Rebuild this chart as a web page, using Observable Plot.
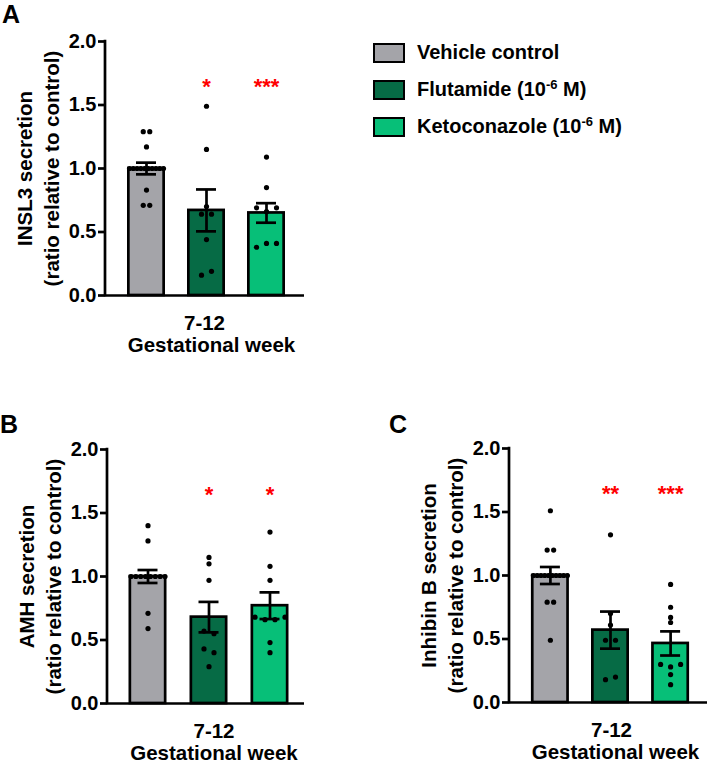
<!DOCTYPE html>
<html><head><meta charset="utf-8">
<script src="https://cdn.jsdelivr.net/npm/d3@7"></script>
<script src="https://cdn.jsdelivr.net/npm/@observablehq/plot@0.6"></script>
<style>
body{margin:0;background:#fff;font-family:'Liberation Sans',Arial,sans-serif;}
#wrap{position:relative;width:708px;height:762px;overflow:hidden;background:#fff;}
.pane{position:absolute;}
.letter{position:absolute;font-size:25px;font-weight:bold;line-height:25px;}
.sw{position:absolute;left:373px;width:32px;height:20px;border:2.5px solid #000;box-sizing:border-box;}
.lt{position:absolute;left:417px;font-size:20px;font-weight:bold;line-height:20px;white-space:nowrap;}
.lt sup{font-size:13px;vertical-align:7px;line-height:0;}
</style></head>
<body><div id="wrap"></div>
<script>
// ---------- data ----------
const groups = ["Vehicle control", "Flutamide", "Ketoconazole"];
const legendMain = ["Vehicle control", "Flutamide (10", "Ketoconazole (10"];
const legendSup = ["", "-6", "-6"];
const legendTail = ["", " M)", " M)"];
const colors = ["#A4A4A9", "#066B45", "#07BF78"];
const panelLetters = ["A", "B", "C"];
const yTitles = ["INSL3 secretion", "AMH secretion", "Inhibin B secretion"];
const yUnit = "(ratio relative to control)";
const xTickLabel = "7-12";
const xTitle = "Gestational week";
const yTicks = [0, 0.5, 1.0, 1.5, 2.0];

const insl3Vehicle = [1.29, 1.29, 1.17, 1, 1, 1, 1, 1, 1, 1, 1, 1, 1, 0.83, 0.71, 0.71];
const insl3Flutamide = [1.49, 1.15, 0.70, 0.64, 0.64, 0.44, 0.16, 0.19];
const insl3Ketoconazole = [1.09, 0.85, 0.69, 0.66, 0.69, 0.38, 0.41, 0.41];
const insl3Mean = [1.00, 0.67, 0.65];
const insl3Sem = [0.046, 0.165, 0.077];
const insl3Stars = ["", "*", "***"];

const amhVehicle = [1.40, 1.28, 1, 1, 1, 1, 1, 1, 1, 1, 0.71, 0.59];
const amhFlutamide = [1.15, 1.10, 0.97, 0.57, 0.55, 0.43, 0.40, 0.29];
const amhKetoconazole = [1.35, 1.08, 0.97, 0.68, 0.66, 0.66, 0.68, 0.48, 0.40];
const amhMean = [1.00, 0.68, 0.77];
const amhSem = [0.051, 0.12, 0.105];
const amhStars = ["", "*", "*"];

const inhbVehicle = [1.51, 1.20, 1.20, 1, 1, 1, 1, 1, 1, 1, 1, 1, 1, 0.79, 0.79, 0.49];
const inhbFlutamide = [1.32, 0.70, 0.61, 0.49, 0.49, 0.18, 0.20];
const inhbKetoconazole = [0.93, 0.75, 0.67, 0.63, 0.30, 0.28, 0.30, 0.22, 0.14];
const inhbMean = [1.00, 0.57, 0.465];
const inhbSem = [0.067, 0.146, 0.095];
const inhbStars = ["", "**", "***"];

// ---------- layout ----------
const FONT = "'Liberation Sans', Arial, sans-serif";
const LW = 2.7;
const STAR_Y = 1.645;
const ROW_TOL = 0.035;
const panels = [
  {left: 0, top: 0, width: 320, height: 360, mt: 41, mb: 65, ml: 105, mr: 16, c0: 146, step: 60, tickDx: -2,
   pts: [insl3Vehicle, insl3Flutamide, insl3Ketoconazole], mean: insl3Mean, sem: insl3Sem, stars: insl3Stars,
   letterTop: 1.8, letterLeft: 2},
  {left: 0, top: 380, width: 320, height: 382, mt: 69, mb: 59, ml: 107, mr: 16, c0: 147.5, step: 61, tickDx: 5,
   pts: [amhVehicle, amhFlutamide, amhKetoconazole], mean: amhMean, sem: amhSem, stars: amhStars,
   letterTop: 412, letterLeft: 0},
  {left: 360, top: 380, width: 348, height: 382, mt: 68, mb: 60, ml: 149, mr: 1, c0: 189.9, step: 60.1, tickDx: 1,
   pts: [inhbVehicle, inhbFlutamide, inhbKetoconazole], mean: inhbMean, sem: inhbSem, stars: inhbStars,
   letterTop: 412, letterLeft: 389}
];

// scatter layout: points of (nearly) equal value share a row, centred on the bar
function scatterOffsets(values) {
  const spacing = values.length > 12 ? 6.5 : 10;
  const idx = values.map((v, i) => i).sort((a, b) => values[b] - values[a]);
  const rows = [];
  for (const i of idx) {
    const r = rows[rows.length - 1];
    if (r && values[r[0]] - values[i] <= ROW_TOL + 1e-9) r.push(i); else rows.push([i]);
  }
  const off = new Array(values.length).fill(0);
  for (const r of rows) {
    r.sort((a, b) => a - b);
    const s = r.length > 1 ? Math.min(spacing, 34 / (r.length - 1)) : 0;
    r.forEach((i, j) => off[i] = (j - (r.length - 1) / 2) * s);
  }
  return off;
}

const wrap = document.getElementById("wrap");

panels.forEach((p, k) => {
  const bars = groups.map((g, i) => ({group: g, i, mean: p.mean[i], sem: p.sem[i], star: p.stars[i]}));
  const dots = groups.flatMap((g, i) => {
    const off = scatterOffsets(p.pts[i]);
    return p.pts[i].map((v, j) => ({group: g, x: i + off[j] / p.step, v}));
  });
  const barHalf = (19 - LW / 2) / p.step;
  const capHalf = 10 / p.step;
  const yAxisLine = (index, scales, values, dims) => {
    const l = document.createElementNS("http://www.w3.org/2000/svg", "line");
    const x = dims.marginLeft;
    l.setAttribute("x1", x); l.setAttribute("x2", x);
    l.setAttribute("y1", scales.y(yTicks[yTicks.length - 1]) - LW / 2);
    l.setAttribute("y2", scales.y(0) + LW / 2);
    l.setAttribute("stroke", "black"); l.setAttribute("stroke-width", LW);
    return l;
  };
  const chart = Plot.plot({
    width: p.width, height: p.height,
    marginTop: p.mt, marginBottom: p.mb, marginLeft: p.ml, marginRight: p.mr,
    style: {fontFamily: FONT, fontWeight: "bold", fontSize: "20px", color: "black", background: "white"},
    x: {domain: [0, 2], range: [p.c0, p.c0 + 2 * p.step], axis: null},
    y: {domain: [0, 2], axis: null},
    color: {domain: groups, range: colors},
    marks: [
      Plot.rectY(bars, {x1: d => d.i - barHalf, x2: d => d.i + barHalf, y1: 0, y2: "mean",
        fill: "group", stroke: "black", strokeWidth: LW}),
      Plot.dot(dots, {x: "x", y: "v", r: 2.6, fill: "black"}),
      Plot.ruleX(bars, {x: "i", y1: d => d.mean - d.sem, y2: d => d.mean + d.sem, strokeWidth: LW}),
      Plot.ruleY(bars, {y: d => d.mean + d.sem, x1: d => d.i - capHalf, x2: d => d.i + capHalf, strokeWidth: LW}),
      Plot.ruleY(bars, {y: d => d.mean - d.sem, x1: d => d.i - capHalf, x2: d => d.i + capHalf, strokeWidth: LW}),
      Plot.ruleY([0], {strokeWidth: LW}),
      yAxisLine,
      Plot.axisY(yTicks, {tickFormat: d => d.toFixed(1), tickSize: 7, tickPadding: 2, strokeWidth: LW,
        fontSize: 20, label: null}),
      Plot.text(bars, {x: "i", y: STAR_Y, text: "star", fill: "red", fontSize: 22}),
      Plot.text([yTitles[k]], {text: d => d, frameAnchor: "left", textAnchor: "middle", rotate: -90, dx: -80, fontSize: 20.5}),
      Plot.text([yUnit], {text: d => d, frameAnchor: "left", textAnchor: "middle", rotate: -90, dx: -53, fontSize: 20.5}),
      Plot.text([xTickLabel], {text: d => d, x: 1, frameAnchor: "bottom", lineAnchor: "bottom", dy: 34, dx: p.tickDx, fontSize: 20.5}),
      Plot.text([xTitle], {text: d => d, x: 1, frameAnchor: "bottom", lineAnchor: "bottom", dy: 56, dx: 5, fontSize: 20.5})
    ]
  });
  const pane = document.createElement("div");
  pane.className = "pane";
  pane.style.left = p.left + "px"; pane.style.top = p.top + "px";
  pane.style.width = p.width + "px"; pane.style.height = p.height + "px";
  pane.appendChild(chart);
  wrap.appendChild(pane);
  const letter = document.createElement("div");
  letter.className = "letter";
  letter.textContent = panelLetters[k];
  letter.style.left = p.letterLeft + "px"; letter.style.top = p.letterTop + "px";
  wrap.appendChild(letter);
});

// legend
const legendTops = [43, 80, 117];
groups.forEach((g, i) => {
  const sw = document.createElement("div");
  sw.className = "sw";
  sw.style.top = legendTops[i] + "px";
  sw.style.background = colors[i];
  wrap.appendChild(sw);
  const t = document.createElement("div");
  t.className = "lt";
  t.style.top = (legendTops[i] - 0.6) + "px";
  t.appendChild(document.createTextNode(legendMain[i]));
  if (legendSup[i]) {
    const s = document.createElement("sup");
    s.textContent = legendSup[i];
    t.appendChild(s);
    t.appendChild(document.createTextNode(legendTail[i]));
  }
  wrap.appendChild(t);
});
</script>
</body></html>
